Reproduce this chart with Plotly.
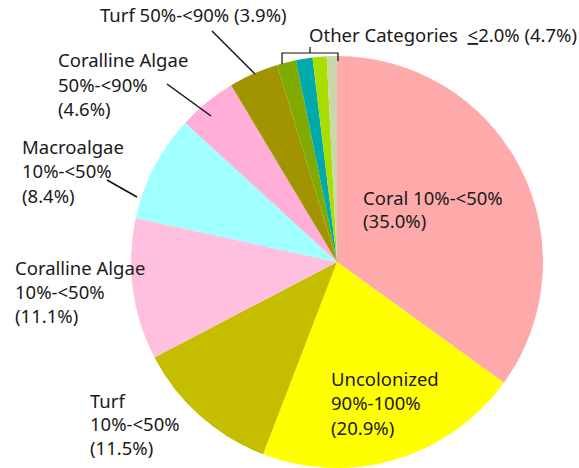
import plotly.graph_objects as go

W, H = 579, 468

# Benthic cover categories, clockwise from 12 o'clock
categories = [
    "Coral 10%-<50%",
    "Uncolonized 90%-100%",
    "Turf 10%-<50%",
    "Coralline Algae 10%-<50%",
    "Macroalgae 10%-<50%",
    "Coralline Algae 50%-<90%",
    "Turf 50%-<90%",
    "Other category A",
    "Other category B",
    "Other category C",
    "Other category D",
]
values = [35.0, 20.9, 11.5, 11.1, 8.4, 4.6, 3.9, 1.5, 1.3, 1.1, 0.8]
colors = [
    "#FFAAAA", "#FFFF00", "#C4BD00", "#FFC0E0", "#A0FFFF", "#FFAED8",
    "#A09500", "#80AA00", "#00AAAA", "#AADD00", "#C8D8A8",
]
other_total = 4.7

# label text lines per labelled slice (index into categories)
label_lines = {
    0: ["Coral 10%-<50%", "({:.1f}%)"],
    1: ["Uncolonized", "90%-100%", "({:.1f}%)"],
    2: ["Turf", "10%-<50%", "({:.1f}%)"],
    3: ["Coralline Algae", "10%-<50%", "({:.1f}%)"],
    4: ["Macroalgae", "10%-<50%", "({:.1f}%)"],
    5: ["Coralline Algae", "50%-<90%", "({:.1f}%)"],
    6: ["Turf 50%-<90% ({:.1f}%)"],
}
# pixel anchors: left x, centre y of each line
label_pos = {
    0: (361, [197, 220]),
    1: (329, [378, 402, 427]),
    2: (88, [400, 423, 447]),
    3: (13, [267, 291, 315]),
    4: (20, [146, 170, 195]),
    5: (56, [60, 84, 108]),
    6: (98, [14]),
}
leaders = [
    ((212, 31), (255, 74)),
    ((167, 84), (211, 116)),
    ((107, 180), (137, 197)),
]


def px(x):
    return x / W


def py(y):
    return 1 - y / H


fig = go.Figure(
    go.Pie(
        labels=categories,
        values=values,
        marker=dict(colors=colors, line=dict(width=0)),
        sort=False,
        direction="clockwise",
        rotation=0,
        textinfo="none",
        hoverinfo="label+percent",
        domain=dict(x=[px(131), px(543)], y=[0, 412 / H]),
        showlegend=False,
    )
)

font = dict(family="Noto Sans", size=18.5, color="#1a1a1a")
annotations = []
for idx, lines in label_lines.items():
    x0, ys = label_pos[idx]
    for line, y in zip(lines, ys):
        annotations.append(dict(
            x=px(x0), y=py(y), xref="paper", yref="paper",
            text=line.format(values[idx]), showarrow=False,
            xanchor="left", yanchor="middle", font=font,
        ))

annotations.append(dict(
    x=px(307), y=py(35), xref="paper", yref="paper",
    text="Other Categories  <u><</u>2.0% ({:.1f}%)".format(other_total),
    showarrow=False, xanchor="left", yanchor="middle", font=font,
))

shapes = []
line_style = dict(color="#111111", width=1.5)
for (xa, ya), (xb, yb) in leaders:
    shapes.append(dict(type="line", xref="paper", yref="paper",
                       x0=px(xa), y0=py(ya), x1=px(xb), y1=py(yb),
                       line=line_style))

# bracket over the small "other" slices
bracket = "M {} {} L {} {} L {} {} L {} {}".format(
    px(282), py(64), px(282), py(53), px(338), py(53), px(338), py(61))
shapes.append(dict(type="path", xref="paper", yref="paper", path=bracket,
                   line=dict(color="#111111", width=1.2)))
shapes.append(dict(type="line", xref="paper", yref="paper",
                   x0=px(310), y0=py(53), x1=px(310), y1=py(47),
                   line=dict(color="#111111", width=1.2)))

fig.update_layout(
    width=W, height=H,
    margin=dict(l=0, r=0, t=0, b=0),
    paper_bgcolor="white",
    plot_bgcolor="white",
    annotations=annotations,
    shapes=shapes,
)

fig.write_html("out.html")
